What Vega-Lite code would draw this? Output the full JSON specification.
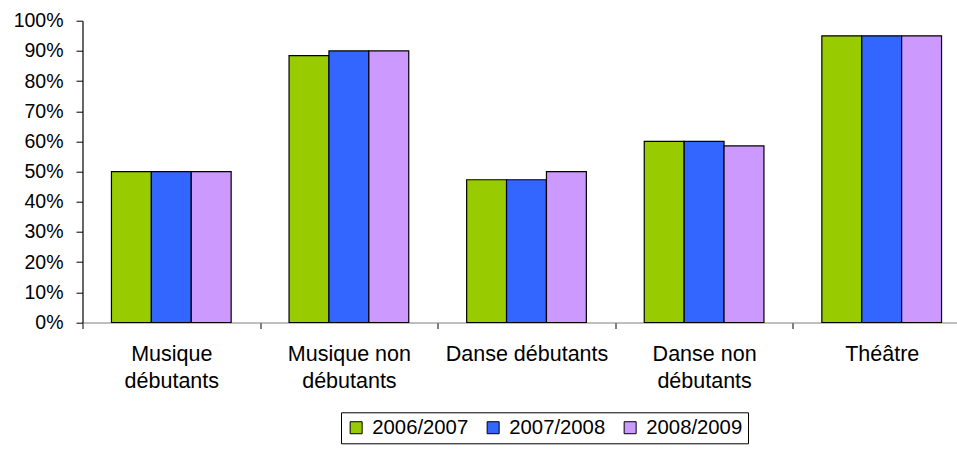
{
  "$schema": "https://vega.github.io/schema/vega-lite/v6.json",
  "width": 874.5,
  "height": 301.8,
  "autosize": {"type": "none"},
  "padding": {"left": 82.5, "top": 20.7, "right": 0, "bottom": 127.5},
  "background": "white",
  "config": {
    "view": {"stroke": null},
    "font": "Liberation Sans",
    "text": {"font": "Liberation Sans"}
  },
  "data": {
    "values": [
      {"cat": "Musique débutants", "year": "2006/2007", "v": 0.50},
      {"cat": "Musique débutants", "year": "2007/2008", "v": 0.50},
      {"cat": "Musique débutants", "year": "2008/2009", "v": 0.50},
      {"cat": "Musique non débutants", "year": "2006/2007", "v": 0.884},
      {"cat": "Musique non débutants", "year": "2007/2008", "v": 0.90},
      {"cat": "Musique non débutants", "year": "2008/2009", "v": 0.90},
      {"cat": "Danse débutants", "year": "2006/2007", "v": 0.473},
      {"cat": "Danse débutants", "year": "2007/2008", "v": 0.473},
      {"cat": "Danse débutants", "year": "2008/2009", "v": 0.50},
      {"cat": "Danse non débutants", "year": "2006/2007", "v": 0.60},
      {"cat": "Danse non débutants", "year": "2007/2008", "v": 0.60},
      {"cat": "Danse non débutants", "year": "2008/2009", "v": 0.585},
      {"cat": "Théâtre", "year": "2006/2007", "v": 0.95},
      {"cat": "Théâtre", "year": "2007/2008", "v": 0.95},
      {"cat": "Théâtre", "year": "2008/2009", "v": 0.95}
    ]
  },
  "mark": {"type": "bar", "stroke": "black", "strokeWidth": 1.2},
  "encoding": {
    "x": {
      "field": "cat",
      "type": "nominal",
      "sort": null,
      "scale": {"range": [0, 888], "paddingInner": 0.326, "paddingOuter": 0.163},
      "axis": {
        "title": null,
        "labelAngle": 0,
        "labelFontSize": 21.5,
        "labelColor": "black",
        "labelFont": "Liberation Sans",
        "labelPadding": 15,
        "labelLineHeight": 27,
        "labelLimit": 300,
        "labelOverlap": false,
        "labelBound": false,
        "tickOffset": -88.8,
        "labelOffset": 88.8,
        "tickSize": 6,
        "tickColor": "black",
        "domainColor": "#808080",
        "domainWidth": 1.2,
        "labelExpr": "datum.value == 'Musique débutants' ? ['Musique', 'débutants'] : datum.value == 'Musique non débutants' ? ['Musique non', 'débutants'] : datum.value == 'Danse non débutants' ? ['Danse non', 'débutants'] : datum.value"
      }
    },
    "xOffset": {"field": "year", "type": "nominal", "scale": {"paddingInner": 0, "paddingOuter": 0}},
    "y": {
      "field": "v",
      "type": "quantitative",
      "scale": {"domain": [0, 1], "nice": false},
      "axis": {
        "title": null,
        "format": ".0%",
        "values": [0, 0.1, 0.2, 0.3, 0.4, 0.5, 0.6, 0.7, 0.8, 0.9, 1.0],
        "labelOverlap": false,
        "labelBound": false,
        "grid": false,
        "labelFontSize": 19.5,
        "labelColor": "black",
        "labelFont": "Liberation Sans",
        "labelPadding": 13,
        "tickSize": 6.5,
        "tickColor": "black",
        "domainColor": "black",
        "domainWidth": 1.2
      }
    },
    "fill": {
      "field": "year",
      "type": "nominal",
      "scale": {"domain": ["2006/2007", "2007/2008", "2008/2009"], "range": ["#99CC00", "#3366FF", "#CC99FF"]},
      "legend": {
        "title": null,
        "orient": "none",
        "direction": "horizontal",
        "legendX": 258.5,
        "legendY": 391.6,
        "strokeColor": "black",
        "padding": 5,
        "symbolType": "square",
        "symbolSize": 144,
        "symbolStrokeColor": "black",
        "symbolStrokeWidth": 1,
        "labelFontSize": 20.3,
        "labelColor": "black",
        "labelFont": "Liberation Sans",
        "labelOffset": 6,
        "columnPadding": 14
      }
    }
  }
}
